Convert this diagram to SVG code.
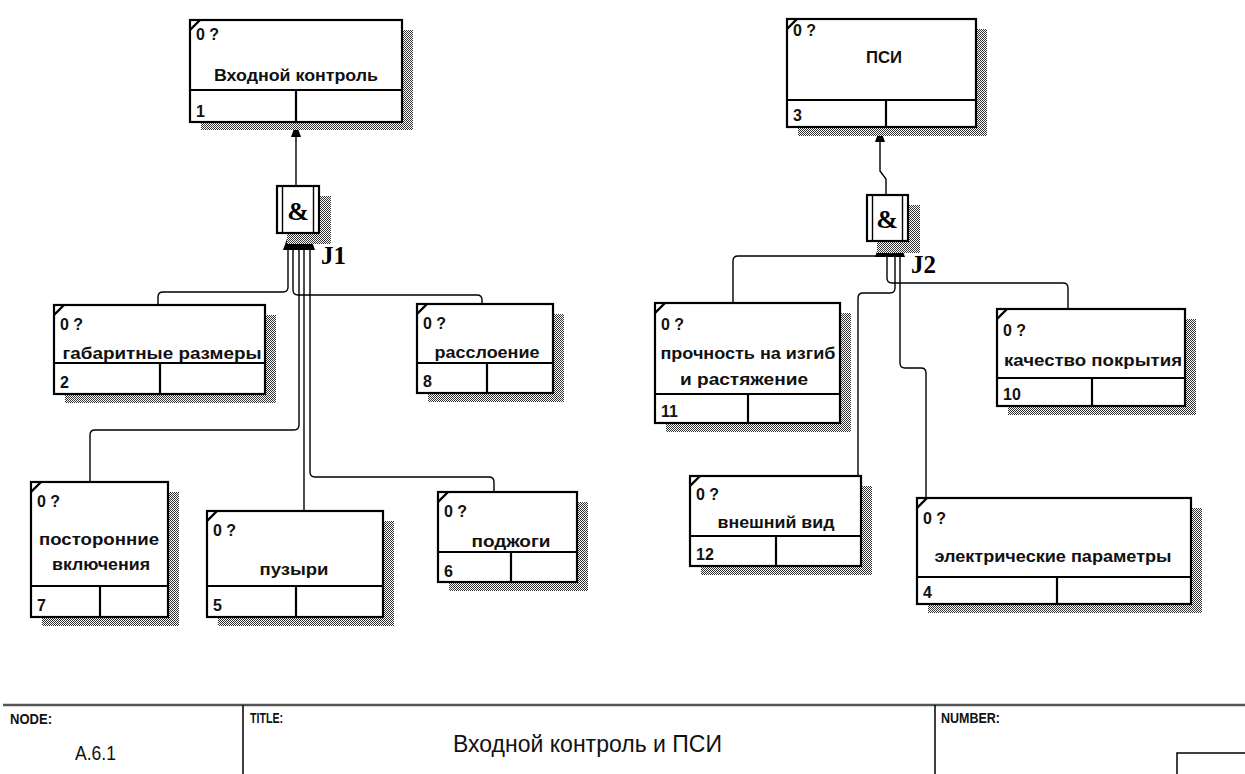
<svg xmlns="http://www.w3.org/2000/svg" width="1245" height="774" viewBox="0 0 1245 774">
<style>
.bx{fill:#fff;stroke:#000;stroke-width:2.2}
.sh{fill:url(#hatch)}
.ln{stroke:#000;stroke-width:2.2;fill:none}
.tk{stroke:#000;stroke-width:2.4}
.cn{stroke:#000;stroke-width:1.4;fill:none}
.q{font-family:"Liberation Sans",Arial,sans-serif;font-size:16px;font-weight:bold;fill:#111}
.t{font-family:"Liberation Sans",Arial,sans-serif;font-size:16px;font-weight:bold;fill:#111;text-anchor:middle}
.amp{font-family:"Liberation Serif","Times New Roman",serif;font-size:26px;font-weight:bold;text-anchor:middle}
.jl{font-family:"Liberation Serif","Times New Roman",serif;font-size:25px;font-weight:bold}
.f{font-family:"Liberation Sans Narrow","Liberation Sans",Arial,sans-serif;fill:#111}
</style>
<defs>
<pattern id="hatch" width="2" height="2" patternUnits="userSpaceOnUse">
<rect width="2" height="2" fill="#fff"/>
<rect x="0" y="0" width="1" height="1" fill="#333"/>
<rect x="1" y="1" width="1" height="1" fill="#333"/>
</pattern>
<marker id="ah" viewBox="0 0 14 10" refX="14" refY="5" markerWidth="14" markerHeight="10" markerUnits="userSpaceOnUse" orient="auto">
<path d="M0,0 L14,5 L0,10 z" fill="#000"/>
</marker>
</defs>
<rect width="1245" height="774" fill="#fff"/>

<g id="connectors">
<path class="cn" d="M296,186 V123" marker-end="url(#ah)"/>
<path class="cn" d="M158,305 V297 Q158,292 163,292 H283 Q288,292 288,287 V236" marker-end="url(#ah)"/>
<path class="cn" d="M482,304 V300 Q482,295 477,295 H298 Q293,295 293,290 V236" marker-end="url(#ah)"/>
<path class="cn" d="M90,482 V435 Q90,430 95,430 H294 Q299,430 299,425 V236" marker-end="url(#ah)"/>
<path class="cn" d="M304,511 V236" marker-end="url(#ah)"/>
<path class="cn" d="M494,492 V482 Q494,477 489,477 H315 Q310,477 310,472 V236" marker-end="url(#ah)"/>
<path class="cn" d="M886,195 V179 L880,171 V128" marker-end="url(#ah)"/>
<path class="cn" d="M733,303 V261 Q733,256 738,256 H876 Q880,256 880,252 V243" marker-end="url(#ah)"/>
<path class="cn" d="M1068,309 V288 Q1068,283 1063,283 H892 Q887,283 887,278 V243" marker-end="url(#ah)"/>
<path class="cn" d="M858,476 V298 Q858,293 863,293 H890 Q895,293 895,288 V243" marker-end="url(#ah)"/>
<path class="cn" d="M926,498 V373 Q926,368 921,368 H905 Q900,368 900,363 V243" marker-end="url(#ah)"/>
</g>

<g id="node1">
<rect class="sh" x="201" y="30" width="212" height="100"/>
<rect class="bx" x="190" y="20" width="212" height="102"/>
<path class="ln" d="M190,90 H402 M296,90 V122"/>
<path class="tk" d="M190,30 L200,20"/>
<text class="q" x="196" y="40">0 ?</text>
<text class="t" x="296" y="81" textLength="164" lengthAdjust="spacingAndGlyphs">Входной контроль</text>
<text class="q" x="196" y="117">1</text>
</g>

<g id="node3">
<rect class="sh" x="798" y="29" width="189" height="107"/>
<rect class="bx" x="787" y="19" width="189" height="108"/>
<path class="ln" d="M787,100 H976 M886,100 V127"/>
<path class="tk" d="M787,29 L797,19"/>
<text class="q" x="793" y="36">0 ?</text>
<text class="t" x="884" y="63" textLength="36" lengthAdjust="spacingAndGlyphs">ПСИ</text>
<text class="q" x="793" y="121">3</text>
</g>

<g id="j1">
<rect class="sh" x="287" y="196" width="44" height="48"/>
<rect class="bx" x="277" y="186" width="42" height="47"/>
<path class="cn" d="M282.5,186 V233 M313.5,186 V233"/>
<text class="amp" x="298" y="220">&amp;</text>
<text class="jl" x="321" y="264">J1</text>
</g>

<g id="j2">
<rect class="sh" x="877" y="205" width="43" height="48"/>
<rect class="bx" x="867" y="195" width="41" height="46"/>
<path class="cn" d="M872.5,195 V241 M902.5,195 V241"/>
<text class="amp" x="887" y="228">&amp;</text>
<text class="jl" x="911" y="273">J2</text>
</g>

<g id="node2">
<rect class="sh" x="65" y="315" width="211" height="88"/>
<rect class="bx" x="54" y="305" width="211" height="89"/>
<path class="ln" d="M54,363 H265 M160,363 V394"/>
<path class="tk" d="M54,315 L64,305"/>
<text class="q" x="60" y="330">0 ?</text>
<text class="t" x="162" y="359" textLength="199" lengthAdjust="spacingAndGlyphs">габаритные размеры</text>
<text class="q" x="60" y="388">2</text>
</g>

<g id="node8">
<rect class="sh" x="428" y="314" width="136" height="88"/>
<rect class="bx" x="417" y="304" width="136" height="89"/>
<path class="ln" d="M417,363 H553 M487,363 V393"/>
<path class="tk" d="M417,314 L427,304"/>
<text class="q" x="423" y="329">0 ?</text>
<text class="t" x="487" y="358" textLength="105" lengthAdjust="spacingAndGlyphs">расслоение</text>
<text class="q" x="423" y="387">8</text>
</g>

<g id="node7">
<rect class="sh" x="42" y="492" width="137" height="134"/>
<rect class="bx" x="31" y="482" width="137" height="135"/>
<path class="ln" d="M31,586 H168 M100,586 V617"/>
<path class="tk" d="M31,492 L41,482"/>
<text class="q" x="37" y="507">0 ?</text>
<text class="t" x="99" y="545" textLength="120" lengthAdjust="spacingAndGlyphs">посторонние</text>
<text class="t" x="101" y="570" textLength="98" lengthAdjust="spacingAndGlyphs">включения</text>
<text class="q" x="37" y="611">7</text>
</g>

<g id="node5">
<rect class="sh" x="218" y="521" width="176" height="105"/>
<rect class="bx" x="207" y="511" width="176" height="106"/>
<path class="ln" d="M207,586 H383 M296,586 V617"/>
<path class="tk" d="M207,521 L217,511"/>
<text class="q" x="213" y="536">0 ?</text>
<text class="t" x="294" y="575" textLength="69" lengthAdjust="spacingAndGlyphs">пузыри</text>
<text class="q" x="213" y="611">5</text>
</g>

<g id="node6">
<rect class="sh" x="449" y="502" width="139" height="89"/>
<rect class="bx" x="438" y="492" width="139" height="90"/>
<path class="ln" d="M438,552 H577 M511,552 V582"/>
<path class="tk" d="M438,502 L448,492"/>
<text class="q" x="444" y="517">0 ?</text>
<text class="t" x="511" y="547" textLength="79" lengthAdjust="spacingAndGlyphs">поджоги</text>
<text class="q" x="444" y="577">6</text>
</g>

<g id="node11">
<rect class="sh" x="666" y="313" width="185" height="119"/>
<rect class="bx" x="655" y="303" width="185" height="120"/>
<path class="ln" d="M655,394 H840 M748,394 V423"/>
<path class="tk" d="M655,313 L665,303"/>
<text class="q" x="661" y="330">0 ?</text>
<text class="t" x="748" y="359" textLength="175" lengthAdjust="spacingAndGlyphs">прочность на изгиб</text>
<text class="t" x="744" y="385" textLength="128" lengthAdjust="spacingAndGlyphs">и растяжение</text>
<text class="q" x="661" y="417">11</text>
</g>

<g id="node10">
<rect class="sh" x="1008" y="319" width="188" height="96"/>
<rect class="bx" x="997" y="309" width="188" height="97"/>
<path class="ln" d="M997,378 H1185 M1092,378 V406"/>
<path class="tk" d="M997,319 L1007,309"/>
<text class="q" x="1003" y="336">0 ?</text>
<text class="t" x="1093" y="366" textLength="178" lengthAdjust="spacingAndGlyphs">качество покрытия</text>
<text class="q" x="1003" y="400">10</text>
</g>

<g id="node12">
<rect class="sh" x="701" y="486" width="171" height="89"/>
<rect class="bx" x="690" y="476" width="171" height="90"/>
<path class="ln" d="M690,536 H861 M776,536 V566"/>
<path class="tk" d="M690,486 L700,476"/>
<text class="q" x="696" y="500">0 ?</text>
<text class="t" x="776" y="528" textLength="117" lengthAdjust="spacingAndGlyphs">внешний вид</text>
<text class="q" x="696" y="560">12</text>
</g>

<g id="node4">
<rect class="sh" x="928" y="508" width="274" height="105"/>
<rect class="bx" x="917" y="498" width="274" height="106"/>
<path class="ln" d="M917,577 H1191 M1057,577 V604"/>
<path class="tk" d="M917,508 L927,498"/>
<text class="q" x="923" y="524">0 ?</text>
<text class="t" x="1053" y="562" textLength="237" lengthAdjust="spacingAndGlyphs">электрические параметры</text>
<text class="q" x="923" y="598">4</text>
</g>

<g id="footer">
<path d="M3,705 H1245" stroke="#555" stroke-width="2.5" fill="none"/>
<path d="M243,705 V774 M935,705 V774 M1177,774 V753 H1245" stroke="#000" stroke-width="1.5" fill="none"/>
<text class="f" x="10" y="724" font-size="15" font-weight="bold" textLength="42" lengthAdjust="spacingAndGlyphs">NODE:</text>
<text class="f" x="75" y="760" font-size="21" textLength="41" lengthAdjust="spacingAndGlyphs">A.6.1</text>
<text class="f" x="250" y="723" font-size="15" font-weight="bold" textLength="33" lengthAdjust="spacingAndGlyphs">TITLE:</text>
<text class="f" x="453" y="752" font-size="23" textLength="269" lengthAdjust="spacingAndGlyphs">Входной контроль и ПСИ</text>
<text class="f" x="941" y="723" font-size="15" font-weight="bold" textLength="59" lengthAdjust="spacingAndGlyphs">NUMBER:</text>
</g>
</svg>
